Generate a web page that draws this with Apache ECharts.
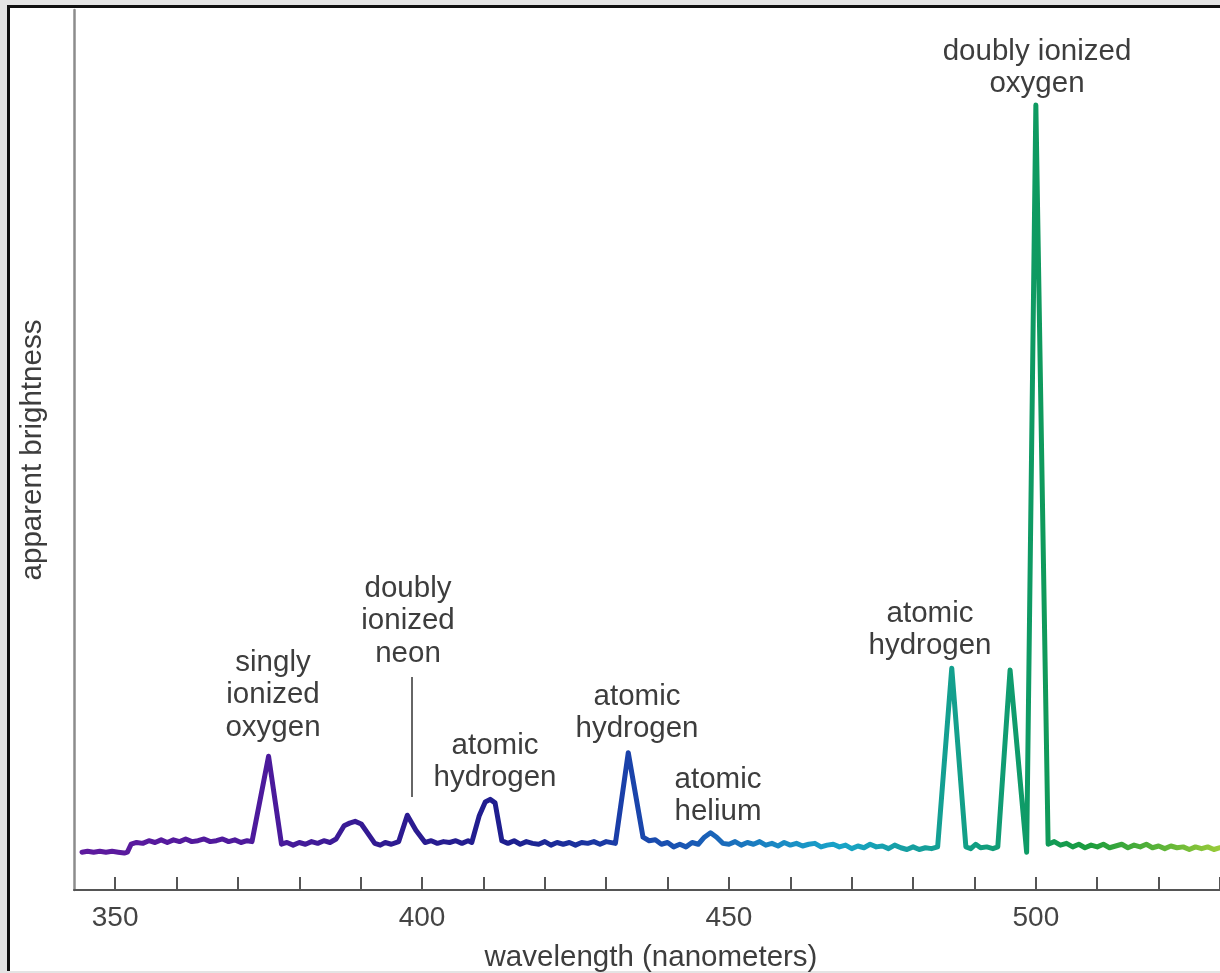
<!DOCTYPE html>
<html>
<head>
<meta charset="utf-8">
<script src="https://cdn.jsdelivr.net/npm/echarts@6/dist/echarts.min.js"></script>
<style>
html,body{margin:0;padding:0;width:1220px;height:973px;background:#e4e4e4;overflow:hidden;}
#frame{position:absolute;left:7px;top:5px;width:1213px;height:966px;box-sizing:border-box;border-left:3px solid #111;border-top:3px solid #111;background:#fff;}
#chart{position:absolute;left:0;top:0;width:1220px;height:973px;}
</style>
</head>
<body>
<div id="frame"></div>
<div id="chart"></div>
<script>
// Wavelengths (nm)
const wavelengths = [
  344.6,345.5,346.5,347.5,348.5,349.5,350.5,351.5,352.0,352.6,
  353.5,354.5,355.5,356.5,357.5,358.5,359.5,360.5,361.5,362.5,
  363.5,364.5,365.5,366.5,367.5,368.5,369.5,370.5,371.5,372.3,
  375.0,377.1,378.0,379.0,380.0,381.0,382.0,383.0,384.0,385.0,
  386.0,387.3,388.2,389.1,390.1,391.0,392.3,393.2,394.0,395.0,
  396.2,397.6,399.0,400.5,401.5,402.5,403.5,404.5,405.5,406.5,
  407.5,408.1,409.3,410.3,411.1,411.9,413.0,414.0,415.0,416.0,
  417.0,418.0,419.0,420.0,421.0,422.0,423.0,424.0,425.0,426.0,
  427.0,428.0,429.0,430.0,431.5,433.6,436.0,437.0,438.0,439.0,
  440.0,441.0,442.0,443.0,444.0,445.0,446.0,447.0,448.0,449.0,
  450.0,451.0,452.0,453.0,454.0,455.0,456.0,457.0,458.0,459.0,
  460.0,461.0,462.0,463.0,464.0,465.0,466.0,467.0,468.0,469.0,
  470.0,471.0,472.0,473.0,474.0,475.0,476.0,477.0,478.0,479.0,
  480.0,481.0,482.0,483.0,484.0,486.3,488.6,489.4,490.2,491.0,
  492.0,493.0,493.8,495.8,498.5,500.0,502.0,503.0,504.0,505.0,
  506.0,507.0,508.0,509.0,510.0,511.0,512.0,513.0,514.0,515.0,
  516.0,517.0,518.0,519.0,520.0,521.0,522.0,523.0,524.0,525.0,
  526.0,527.0,528.0,529.0,530.0
];
// Apparent brightness (arbitrary units)
const brightness = [
  4.3,4.4,4.3,4.4,4.3,4.4,4.3,4.2,4.3,5.2,
  5.4,5.3,5.6,5.4,5.7,5.4,5.7,5.5,5.8,5.5,
  5.6,5.8,5.5,5.6,5.8,5.5,5.7,5.4,5.6,5.5,
  15.2,5.2,5.4,5.1,5.4,5.2,5.5,5.3,5.6,5.4,
  5.8,7.3,7.6,7.8,7.5,6.6,5.3,5.1,5.4,5.2,
  5.5,8.5,6.8,5.4,5.6,5.3,5.5,5.4,5.6,5.3,
  5.6,5.4,8.4,10.0,10.3,9.9,5.6,5.3,5.6,5.2,
  5.5,5.3,5.2,5.5,5.1,5.4,5.2,5.4,5.1,5.4,
  5.3,5.5,5.2,5.5,5.3,15.6,6.0,5.6,5.7,5.2,
  5.4,4.9,5.2,4.9,5.4,5.2,6.0,6.5,6.0,5.3,
  5.2,5.5,5.1,5.4,5.2,5.5,5.1,5.3,5.0,5.4,
  5.1,5.3,5.0,5.2,5.3,4.9,5.1,5.2,4.9,5.1,
  4.7,5.0,4.8,5.2,4.9,5.0,4.7,5.1,4.8,4.6,
  4.9,4.6,4.8,4.7,4.9,25.2,4.9,4.7,5.2,4.8,
  4.9,4.7,4.9,25.0,4.3,89.2,5.2,5.5,5.1,5.3,
  4.9,5.2,4.8,5.1,4.9,5.2,4.8,5.0,5.2,4.8,
  5.1,4.9,5.2,4.8,5.0,4.7,5.0,4.8,4.9,4.6,
  4.9,4.7,4.9,4.6,4.8
];
// Axis ticks and labels
const tickValues = [350,360,370,380,390,400,410,420,430,440,450,460,470,480,490,500,510,520,530];
const labelValues = [350,400,450,500];
// Annotation texts
const annotationTexts = [
  'singly\nionized\noxygen',
  'doubly\nionized\nneon',
  'atomic\nhydrogen',
  'atomic\nhydrogen',
  'atomic\nhelium',
  'atomic\nhydrogen',
  'doubly ionized\noxygen'
];

const seriesData = wavelengths.map((w, i) => [w, brightness[i]]);

const chart = echarts.init(document.getElementById('chart'), null, {renderer: 'canvas'});

const xMin = 343.3, xMax = 530;
function stop(nm, c) { return {offset: (nm - 344.6) / (530 - 344.6), color: c}; }
const lineGradient = new echarts.graphic.LinearGradient(0, 0, 1, 0, [
  stop(344.6, '#5e1a9e'),
  stop(375, '#4c1a9c'),
  stop(395, '#2e1a91'),
  stop(415, '#1d1f8f'),
  stop(432, '#1a3ea8'),
  stop(445, '#1a5cb6'),
  stop(458, '#1a8ac4'),
  stop(468, '#18a4c8'),
  stop(478, '#169fa4'),
  stop(487, '#13a08c'),
  stop(500, '#0e9a60'),
  stop(508, '#1b9c3e'),
  stop(520, '#5cb438'),
  stop(530, '#9ccc3a')
]);

const fontFam = '"Liberation Sans", Arial, Helvetica, sans-serif';
const txtColor = '#3d3d3d';

// label positions (pixels)
const annPos = [
  [273, 695], [408, 621], [495, 762], [637, 713], [718, 796], [930, 630], [1037, 68]
];

const graphics = annotationTexts.map((t, i) => ({
  type: 'text',
  x: annPos[i][0],
  y: annPos[i][1],
  style: {
    text: t,
    fill: txtColor,
    font: '29.5px ' + fontFam,
    textAlign: 'center',
    textVerticalAlign: 'middle',
    lineHeight: 32.5
  },
  silent: true
}));
graphics.push({
  type: 'line',
  shape: {x1: 412, y1: 677, x2: 412, y2: 797},
  style: {stroke: '#666', lineWidth: 2}
});

chart.setOption({
  animation: false,
  backgroundColor: 'transparent',
  grid: {left: 74, right: 0, top: 10, bottom: 83, containLabel: false, outerBoundsMode: 'none'},
  xAxis: {
    type: 'value',
    min: xMin,
    max: xMax,
    name: 'wavelength (nanometers)',
    nameLocation: 'middle',
    nameGap: 53,
    nameTextStyle: {fontSize: 29.5, color: txtColor, fontFamily: fontFam, padding: [0, 0, 0, 8]},
    axisLine: {show: true, onZero: false, lineStyle: {color: '#555', width: 2}},
    axisTick: {show: true, inside: true, length: 13, customValues: tickValues, lineStyle: {color: '#555', width: 2}},
    axisLabel: {show: true, customValues: labelValues, margin: 14, fontSize: 28, color: '#444', fontFamily: fontFam},
    splitLine: {show: false}
  },
  yAxis: {
    type: 'value',
    min: 0,
    max: 100,
    name: 'apparent brightness',
    nameLocation: 'middle',
    nameGap: 26,
    nameTextStyle: {fontSize: 29.5, color: txtColor, fontFamily: fontFam},
    axisLine: {show: true, lineStyle: {color: '#8c8c8c', width: 2.5}},
    axisTick: {show: false},
    axisLabel: {show: false},
    splitLine: {show: false}
  },
  series: [{
    type: 'line',
    data: seriesData,
    showSymbol: false,
    symbol: 'none',
    smooth: false,
    lineStyle: {width: 5, color: lineGradient, join: 'round', cap: 'round'}
  }],
  graphic: graphics
});
</script>
</body>
</html>
